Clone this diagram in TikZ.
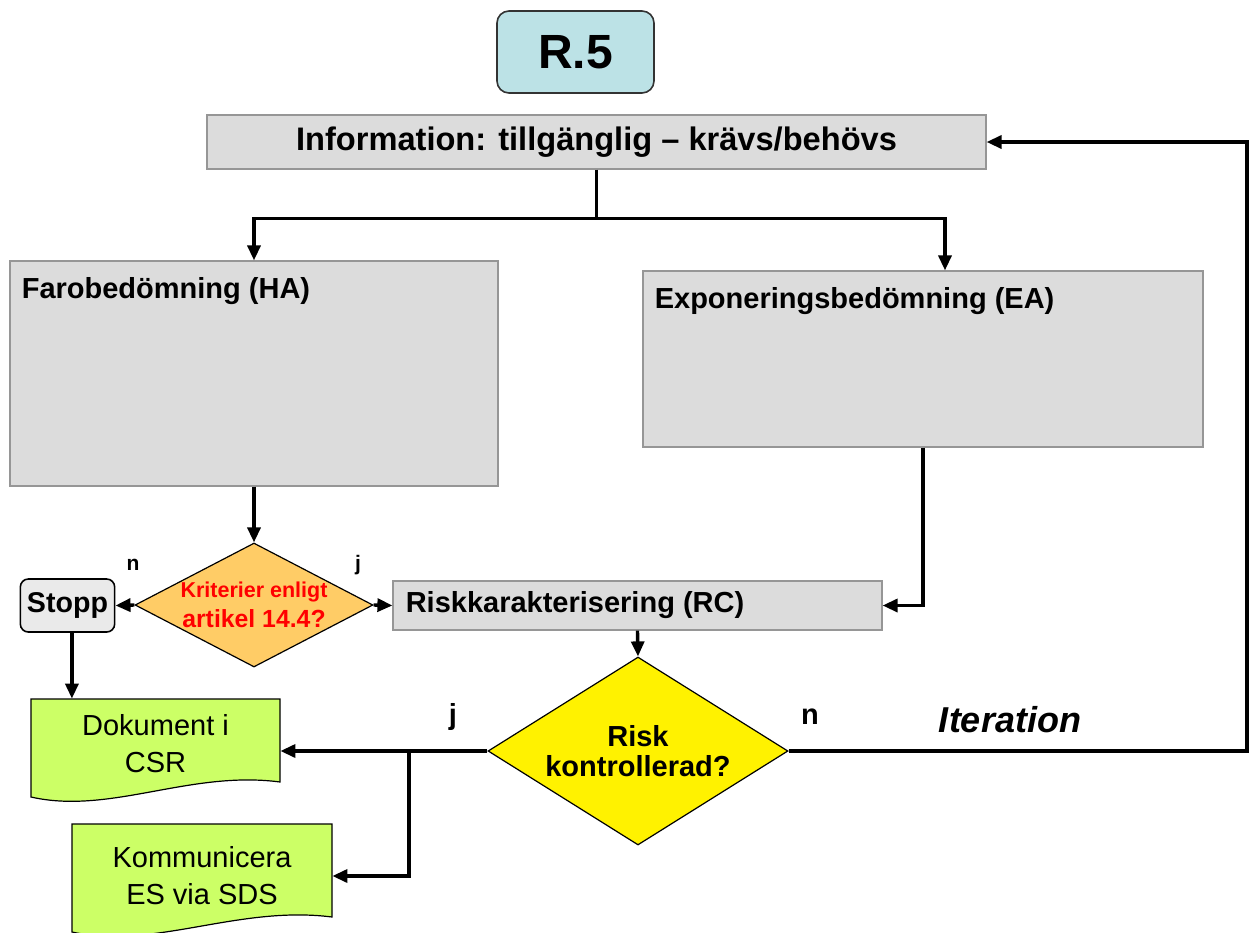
\documentclass[tikz,border=0pt]{standalone}
\usepackage{fontspec}
\setmainfont{Liberation Sans}
\usepackage{tikz}
\usetikzlibrary{backgrounds,shapes.geometric,arrows.meta}
\definecolor{boxgray}{HTML}{DCDCDC}
\definecolor{boxedge}{HTML}{969696}
\definecolor{tealfill}{HTML}{BCE2E6}
\definecolor{stoppfill}{HTML}{EAEAEA}
\definecolor{critfill}{HTML}{FFCC66}
\definecolor{docgreen}{HTML}{CCFF66}

\begin{document}
\begin{tikzpicture}[x=0.5pt,y=-0.5pt]
        \tikzstyle{greybox} = [rectangle, draw=boxedge, fill=boxgray, line width=0.6pt, inner sep=0pt]
        \tikzstyle{boxtext} = [font=\bfseries\fontsize{14.5}{17}\selectfont, inner sep=0pt]
        \tikzstyle{decision} = [diamond, draw=black, line width=0.6pt, inner sep=0pt]
        \tikzstyle{docnode} = [align=center, font=\fontsize{14.5}{18.5}\selectfont, inner sep=0pt]
        \tikzstyle{docshape} = [draw=black, fill=docgreen, line width=0.6pt]
        \tikzstyle{answer} = [font=\bfseries\fontsize{10.5}{12}\selectfont]
        \tikzstyle{bigans} = [font=\bfseries\fontsize{14.5}{17}\selectfont]
        \tikzstyle{arrow} = [line width=1.7pt,-{Triangle[length=7.5pt,width=6.5pt]}]
        \useasboundingbox (0,0) rectangle (1250,933);
        \clip (0,0) rectangle (1250,933);

        \node (rfive) [rectangle, rounded corners=6pt, draw=black!80, line width=0.8pt, fill=tealfill, minimum width=78.5pt, minimum height=41pt, font=\bfseries\fontsize{24}{28}\selectfont] at (575.5,52) {R.5};
        \node (info) [greybox, minimum width=389.5pt, minimum height=27pt, font=\bfseries\fontsize{16.3}{19}\selectfont] at (596.5,142) {Information: tillgänglig – krävs/behövs};
        \node (hazard) [greybox, minimum width=244pt, minimum height=112.5pt, label={[boxtext, anchor=north west, xshift=6pt, yshift=-8.3pt]north west:{Farobedömning (HA)}}] at (254,373.5) {};
        \node (exposure) [greybox, minimum width=280pt, minimum height=88pt, label={[boxtext, anchor=north west, xshift=6pt, yshift=-8.3pt]north west:{Exponeringsbedömning (EA)}}] at (923,359) {};
        \node (crit) [decision, fill=critfill, minimum width=119pt, minimum height=62pt, label={[text=red, align=center, font=\bfseries\fontsize{12.4}{15}\selectfont]center:{{\fontsize{10.75}{13}\selectfont Kriterier enligt}\\artikel 14.4?}}] at (254,605) {};
        \node (stopp) [rectangle, rounded corners=4pt, draw=black, line width=0.8pt, fill=stoppfill, minimum width=46.5pt, minimum height=26.5pt, font=\bfseries\fontsize{14.3}{17}\selectfont] at (67.5,605.5) {Stopp};
        \node (riskchar) [greybox, minimum width=244.5pt, minimum height=24.5pt, label={[boxtext, anchor=west, xshift=6.5pt]west:{Riskkarakterisering (RC)}}] at (637.5,605.5) {};
        \node (risk) [decision, fill=yellow, minimum width=150pt, minimum height=94pt, label={[align=center, font=\bfseries\fontsize{14.5}{15}\selectfont]center:{Risk\\kontrollerad?}}] at (638,751) {};
        \node (dokument) [docnode, minimum width=124.5pt, minimum height=45pt] at (155.5,744) {Dokument i\\CSR};
        \node (kommunicera) [docnode, minimum width=130pt] at (202,876) {Kommunicera\\ES via SDS};

        % document outlines behind the texts
        \begin{scope}[on background layer]
            \draw[docshape] (31,699) -- (280,699) -- (280,782) .. controls (190,770) and (110,815) .. (31,797) -- cycle;
            \draw[docshape] (72,824) -- (332,824) -- (332,917) .. controls (238,905) and (154,950) .. (72,932) -- cycle;
        \end{scope}

        \node (critno) [answer] at (133,565) {n};
        \node (crityes) [answer] at (358,565) {j};
        \node (riskyes) [bigans] at (453,717) {j};
        \node (riskno) [bigans] at (810,717) {n};
        \node (iteration) [font=\bfseries\itshape\fontsize{18}{21}\selectfont] at (1010,720) {Iteration};

        \path (info.south) ++(0,49) coordinate (split);
        \coordinate (eain) at ([xshift=11pt]exposure.north);
        \coordinate (stoppfoot) at ([xshift=2.2pt]stopp.south);
        \coordinate (jsplit) at (409,751);
        \coordinate (loopcorner) at (1247,751);

        \draw [arrow] (info.south) -- (split) -| (hazard.north);
        \draw [arrow] (split) -| (eain);
        \draw [arrow] (hazard.south) -- (crit.north);
        \draw [arrow] (crit.west) -- (stopp.east);
        \draw [arrow] (crit.east) -- (riskchar.west);
        \draw [arrow] (stoppfoot) -- (stoppfoot |- dokument.north);
        \draw [arrow] (exposure.south) |- (riskchar.east);
        \draw [arrow] (riskchar.south) -- (risk.north);
        \draw [arrow] (risk.west) -- (risk.west -| dokument.east);
        \draw [arrow] (jsplit) |- (kommunicera.east);
        \draw [arrow] (risk.east) -- (risk.east -| loopcorner) |- (info.east);
    \end{tikzpicture}
\end{document}
